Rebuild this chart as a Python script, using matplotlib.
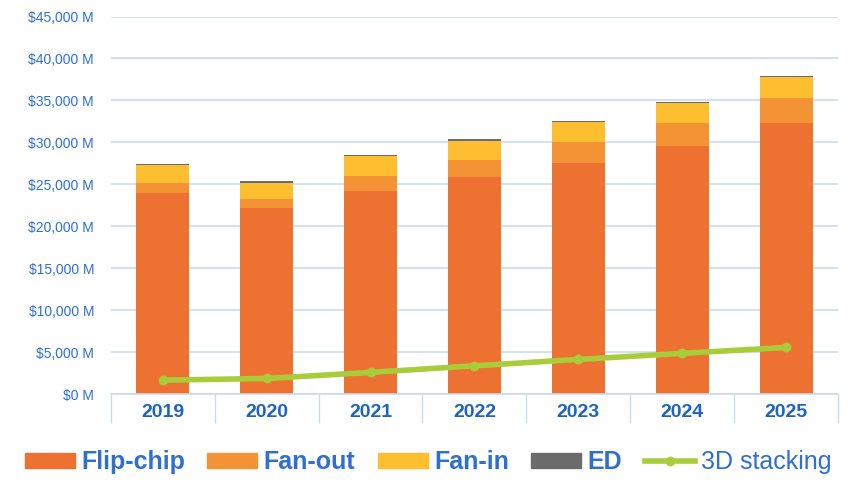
import matplotlib
matplotlib.use('Agg')
import matplotlib.pyplot as plt
from matplotlib.patches import Patch
from matplotlib.lines import Line2D
import numpy as np

plt.rcParams['font.family'] = ['Liberation Sans Narrow', 'Liberation Sans', 'DejaVu Sans']

# valeurs (millions de dollars)
annees = ['2019', '2020', '2021', '2022', '2023', '2024', '2025']
flip_chip = [23950, 22150, 24250, 25850, 27550, 29600, 32300]
fan_out = [1200, 1100, 1800, 2050, 2450, 2700, 3050]
fan_in = [2100, 1950, 2300, 2300, 2400, 2400, 2450]
ed = [150, 150, 150, 150, 150, 150, 150]
stacking_3d = [1670, 1870, 2590, 3380, 4140, 4860, 5570]

c_flip = '#ed7231'
c_fanout = '#f39336'
c_fanin = '#fdbf2f'
c_ed = '#6b6b6b'
c_3d = '#a9cc3b'
c_txt = '#2f6fd0'
c_grid = '#c9daee'

fig = plt.figure(figsize=(8.65, 4.86), dpi=100)
ax = fig.add_axes([0.128, 0.189, 0.841, 0.777])

x = np.arange(len(annees))
w = 0.51
b1 = np.array(flip_chip)
b2 = b1 + np.array(fan_out)
b3 = b2 + np.array(fan_in)
ax.bar(x, flip_chip, w, color=c_flip, zorder=2)
ax.bar(x, fan_out, w, bottom=b1, color=c_fanout, zorder=2)
ax.bar(x, fan_in, w, bottom=b2, color=c_fanin, zorder=2)
ax.bar(x, ed, w, bottom=b3, color=c_ed, zorder=2)
ax.plot(x, stacking_3d, color=c_3d, lw=4, marker='o', ms=6, zorder=3)

ax.set_xlim(-0.5, len(annees) - 0.5)
ax.set_ylim(0, 45000)
ax.set_yticks(range(0, 45001, 5000))
ax.set_yticklabels(['${:,} M'.format(v) for v in range(0, 45001, 5000)],
                   color=c_txt, fontsize=10)
ax.set_xticks(x)
ax.set_xticklabels(annees, color='#1f63c0', fontsize=14, fontweight='bold')
ax.set_xticks(np.arange(-0.5, len(annees)), minor=True)
ax.tick_params(axis='x', which='major', length=0, pad=7)
ax.tick_params(axis='x', which='minor', length=21, color=c_grid, width=1)
ax.tick_params(axis='y', length=0, pad=12)

ax.yaxis.grid(True, color=c_grid, lw=1.2, zorder=0)
for s in ['top', 'right', 'left']:
    ax.spines[s].set_visible(False)
ax.spines['bottom'].set_color(c_grid)
ax.spines['bottom'].set_linewidth(1.2)

handles = [
    Patch(color=c_flip),
    Patch(color=c_fanout),
    Patch(color=c_fanin),
    Patch(color=c_ed),
    Line2D([0], [0], color=c_3d, lw=4, marker='o', ms=6),
]
labels = ['Flip-chip', 'Fan-out', 'Fan-in', 'ED', '3D stacking']
leg = fig.legend(handles, labels, loc='center', bbox_to_anchor=(0.495, 0.049),
                 ncol=5, frameon=False, handlelength=2.0, handleheight=0.55,
                 handletextpad=0.25, columnspacing=0.9,
                 prop={'size': 18, 'weight': 'bold'})
for t in leg.get_texts():
    t.set_color(c_txt)
leg.get_texts()[-1].set_fontweight('normal')

plt.savefig('out.png', dpi=100)
